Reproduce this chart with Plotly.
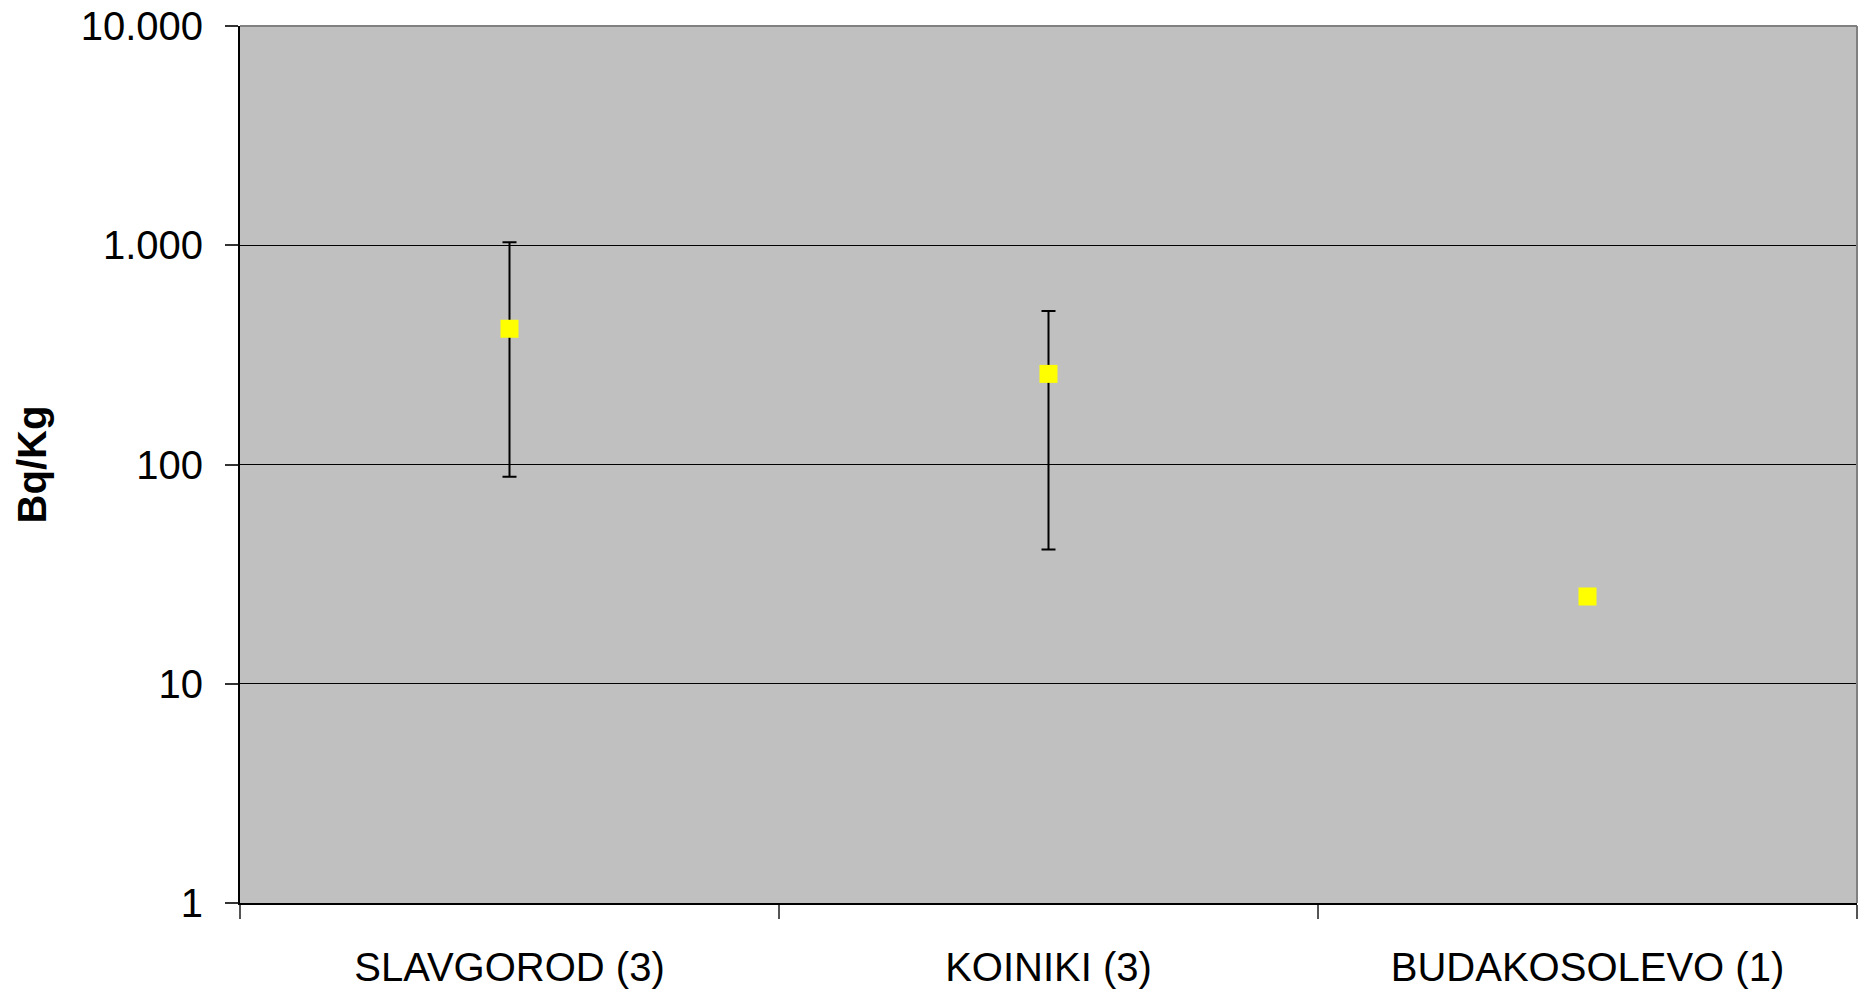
import plotly.graph_objects as go

# Sites (number of samples in brackets) and measured activity, Bq/Kg
sites = ["SLAVGOROD (3)", "KOINIKI (3)", "BUDAKOSOLEVO (1)"]
mean_bq = [416, 259, 25]
max_bq = [1031, 501, None]
min_bq = [88, 41, None]

y_tickvals = [1, 10, 100, 1000, 10000]
y_ticktext = ["1", "10", "100", "1.000", "10.000"]

err_plus = [None if hi is None else hi - m for hi, m in zip(max_bq, mean_bq)]
err_minus = [None if lo is None else m - lo for lo, m in zip(min_bq, mean_bq)]

FONT = "Liberation Sans, Arial, sans-serif"

fig = go.Figure()
fig.add_trace(go.Scatter(
    x=sites,
    y=mean_bq,
    mode="markers",
    marker=dict(symbol="square", size=18, color="#FFFF00", line=dict(width=0)),
    error_y=dict(
        type="data",
        symmetric=False,
        array=err_plus,
        arrayminus=err_minus,
        color="#000000",
        thickness=2,
        width=7,
    ),
    showlegend=False,
))

fig.update_layout(
    width=1859,
    height=992,
    margin=dict(l=240, r=2, t=26, b=89),
    paper_bgcolor="#FFFFFF",
    plot_bgcolor="#C0C0C0",
    font=dict(family=FONT, size=40, color="#000000"),
    xaxis=dict(
        type="category",
        range=[-0.5, 2.5],
        tickson="boundaries",
        ticks="outside",
        ticklen=14,
        tickwidth=2,
        tickcolor="#555555",
        ticklabelstandoff=28,
        showgrid=False,
        showline=True,
        linecolor="#000000",
        linewidth=2,
        zeroline=False,
        tickfont=dict(family=FONT, size=40),
    ),
    yaxis=dict(
        type="log",
        range=[0, 4],
        tickvals=y_tickvals,
        ticktext=y_ticktext,
        ticks="outside",
        ticklen=13,
        tickwidth=1.5,
        tickcolor="#333333",
        ticklabelstandoff=14,
        showgrid=True,
        gridcolor="#000000",
        gridwidth=1,
        showline=True,
        linecolor="#000000",
        linewidth=2,
        zeroline=False,
        tickfont=dict(family=FONT, size=40),
        title=dict(text="<b>Bq/Kg</b>", font=dict(family=FONT, size=40), standoff=22),
    ),
    shapes=[
        # grey frame along the top and right edges of the plot area
        dict(type="line", xref="x domain", yref="y domain", x0=0, x1=1, y0=1, y1=1,
             line=dict(color="#808080", width=2), layer="above"),
        dict(type="line", xref="x domain", yref="y domain", x0=1, x1=1, y0=0, y1=1,
             line=dict(color="#808080", width=2), layer="above"),
    ],
)

fig.write_html("out.html")
